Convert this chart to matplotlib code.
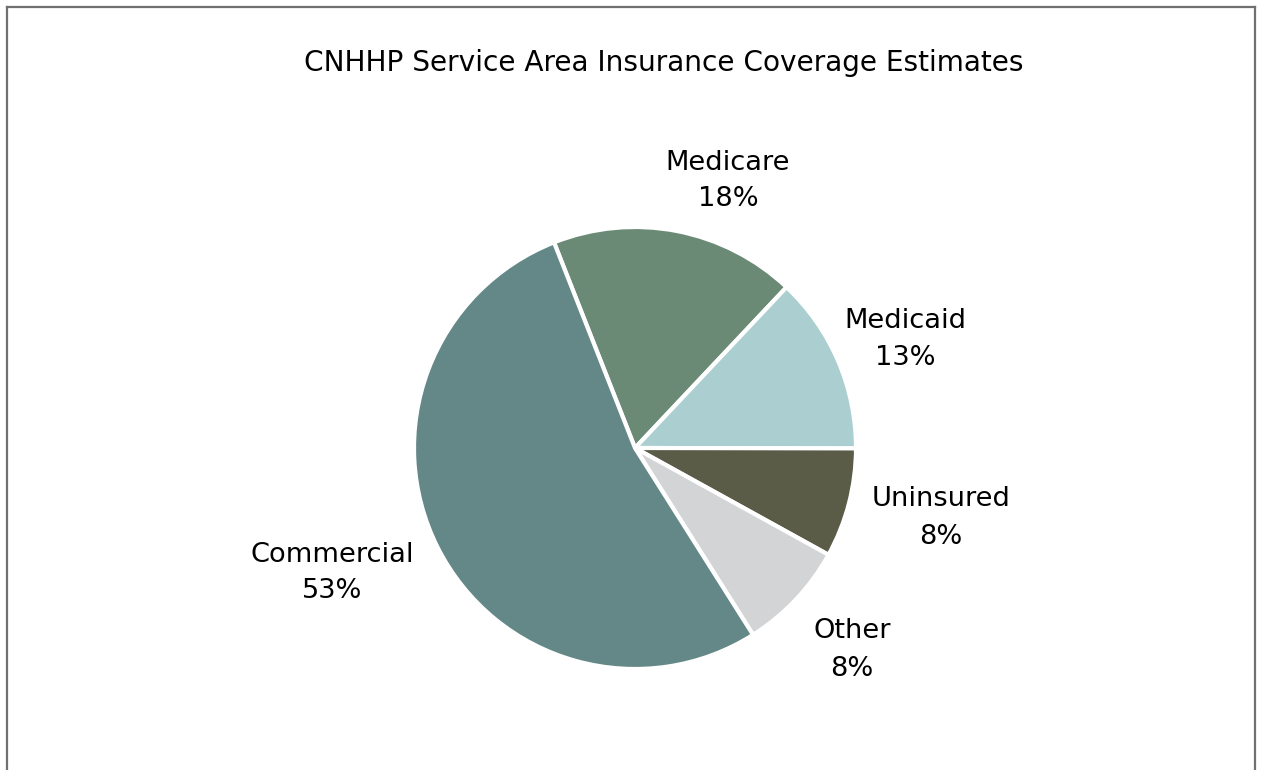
import matplotlib
matplotlib.use("Agg")
import matplotlib.pyplot as plt
from matplotlib.lines import Line2D

# Insurance coverage shares (percent)
categories = ["Medicare", "Medicaid", "Uninsured", "Other", "Commercial"]
shares = [18, 13, 8, 8, 53]
colors = ["#6b8a75", "#abcfd0", "#5b5c48", "#d3d4d5", "#648887"]
title = "CNHHP Service Area Insurance Coverage Estimates"

plt.rcParams["font.family"] = ["DejaVu Sans"]

W, H, DPI = 1261, 770, 100
fig = plt.figure(figsize=(W / DPI, H / DPI), dpi=DPI)

# pie axes: centre (635, 448), radius ~221 px
cx, cy, r = 635, 448, 221
ax = fig.add_axes([(cx - r) / W, 1 - (cy + r) / H, 2 * r / W, 2 * r / H])
wedges, _ = ax.pie(
    shares,
    colors=colors,
    startangle=111.5,
    counterclock=False,
    wedgeprops=dict(edgecolor="white", linewidth=3),
)
ax.set_xlim(-1, 1)
ax.set_ylim(-1, 1)
ax.set_aspect("equal")
ax.axis("off")

# category labels, placed in pixel positions around the pie
label_pos = {
    "Medicare": (728, 181),
    "Medicaid": (905, 340),
    "Uninsured": (941, 518),
    "Other": (852, 650),
    "Commercial": (332, 573),
}
for name, val in zip(categories, shares):
    x, y = label_pos[name]
    fig.text(x / W, 1 - y / H, f"{name}\n{val}%", ha="center", va="center",
             fontsize=19.6, linespacing=1.55, color="#000000")

fig.text(664 / W, 1 - 63 / H, title, ha="center", va="center",
         fontsize=20.2, color="#000000")

# chart-area border (open at the bottom)
bc = "#707070"
fig.add_artist(Line2D([7 / W, 7 / W], [1 - 7 / H, 0], transform=fig.transFigure,
                      color=bc, lw=1.6))
fig.add_artist(Line2D([1255 / W, 1255 / W], [1 - 7 / H, 0], transform=fig.transFigure,
                      color=bc, lw=1.6))
fig.add_artist(Line2D([7 / W, 1255 / W], [1 - 7 / H, 1 - 7 / H], transform=fig.transFigure,
                      color=bc, lw=1.6))

fig.savefig("out.png", dpi=DPI, facecolor="white")
